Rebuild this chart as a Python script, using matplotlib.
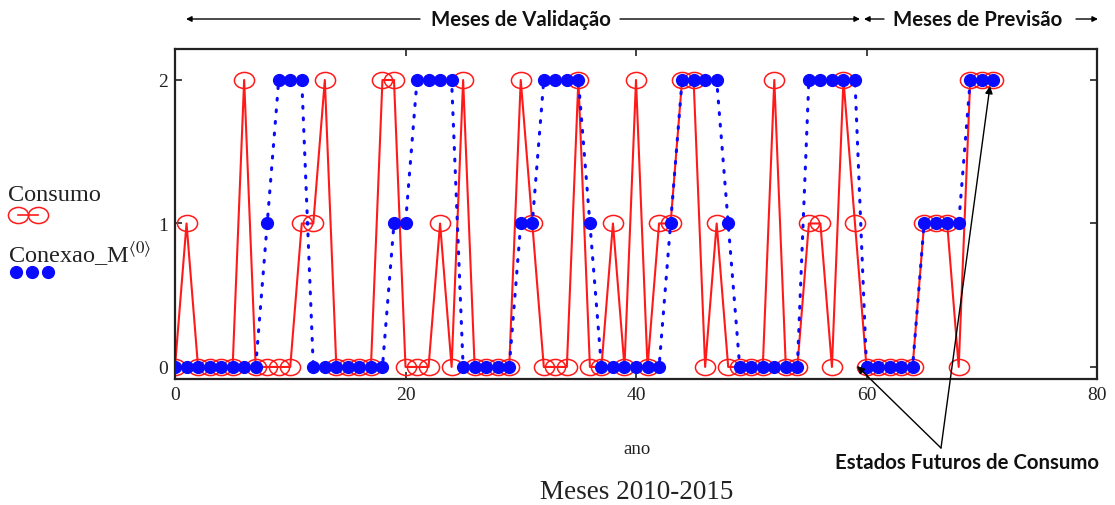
import numpy as np
import matplotlib
matplotlib.use("Agg")
import matplotlib.pyplot as plt
from matplotlib.path import Path
from matplotlib.transforms import Affine2D
from matplotlib.lines import Line2D
from matplotlib.patches import FancyArrowPatch

# Monthly consumption state and model connection state, 2010-2015
months = list(range(72))
consumo = [0, 1, 0, 0, 0, 0, 2, 0, 0, 0, 0, 1, 1, 2, 0, 0, 0, 0, 2, 2,
           0, 0, 0, 1, 0, 2, 0, 0, 0, 0, 2, 1, 0, 0, 0, 2, 0, 0, 1, 0,
           2, 0, 1, 1, 2, 2, 0, 1, 0, 0, 0, 0, 2, 0, 0, 1, 1, 0, 2, 1,
           0, 0, 0, 0, 0, 1, 1, 1, 0, 2, 2, 2]
conexao = [0, 0, 0, 0, 0, 0, 0, 0, 1, 2, 2, 2, 0, 0, 0, 0, 0, 0, 0, 1,
           1, 2, 2, 2, 2, 0, 0, 0, 0, 0, 1, 1, 2, 2, 2, 2, 1, 0, 0, 0,
           0, 0, 0, 1, 2, 2, 2, 2, 1, 0, 0, 0, 0, 0, 0, 2, 2, 2, 2, 2,
           0, 0, 0, 0, 0, 1, 1, 1, 1, 2, 2, 2]
x_ticks = [0, 20, 40, 60, 80]
y_ticks = [0, 1, 2]

W, H = 1115, 506
fig = plt.figure(figsize=(W / 100, H / 100), dpi=100)


def fx(px):
    return px / W


def fy(py):
    return 1 - py / H


# plot frame
left, right, top, bottom = 175, 1097, 50, 380
ax = fig.add_axes([fx(left), fy(bottom), fx(right) - fx(left), fy(top) - fy(bottom)])
ax.set_xlim(0, 80)
ax.set_ylim(-0.084, 2.216)

serif = "Liberation Serif"
red = "#ff1a1a"
blue = "#0a0aff"

# slightly wide open ellipse for the consumption marks
ellipse = Path.unit_circle().transformed(Affine2D().scale(1.0, 0.8))

ax.plot(months, consumo, color=red, lw=1.5, marker=ellipse, markersize=14.5,
        markerfacecolor="none", markeredgecolor=red, markeredgewidth=1.1, zorder=2)
ax.plot(months, conexao, color=blue, lw=2.2, linestyle=(0, (0.6, 3.2)),
        dash_capstyle="round", zorder=3)
ax.plot(months, conexao, linestyle="none", marker="o", markersize=8.5,
        color=blue, markeredgecolor=blue, zorder=4)

ax.set_xticks(x_ticks)
ax.set_yticks(y_ticks)
ax.tick_params(direction="in", length=5, width=1.2, top=True, right=True,
               labelsize=14, pad=5, colors="#222222")
for lab in ax.get_xticklabels() + ax.get_yticklabels():
    lab.set_fontfamily(serif)
for sp in ax.spines.values():
    sp.set_linewidth(1.6)
    sp.set_color("#222222")

# axis captions
fig.text(fx(637), fy(450), "ano", family=serif, fontsize=13.5,
         ha="center", va="center", color="#222222")
fig.text(fx(637), fy(493), "Meses 2010-2015", family=serif, fontsize=19.5,
         ha="center", va="center", color="#222222")

# legend on the left
fig.text(fx(8), fy(196), "Consumo", family=serif, fontsize=17.5,
         ha="left", va="center", color="#222222")
fig.add_artist(Line2D([fx(18), fx(38)], [fy(216), fy(216)], transform=fig.transFigure,
                      color=red, lw=1.2, marker=ellipse, markersize=14.5,
                      markerfacecolor="none", markeredgecolor=red, markeredgewidth=1.1))
fig.text(fx(8), fy(254), r"Conexao_M$^{\langle 0\rangle}$", family=serif, fontsize=17.5,
         ha="left", va="center", color="#222222", math_fontfamily="stix")
fig.add_artist(Line2D([fx(16), fx(32), fx(48)], [fy(273)] * 3, transform=fig.transFigure,
                      linestyle="none", marker="o", markersize=8.5, color=blue))

# period headers with arrows
hdr = dict(family="Lato", fontweight="bold", fontsize=14.7, color="#111111",
           ha="center", va="center")
arrow_kw = dict(arrowstyle="-|>", lw=1.0, color="black", mutation_scale=8,
                shrinkA=0, shrinkB=0)
hy = 20
fig.text(fx(521), fy(hy), "Meses de Validação", **hdr)
fig.text(fx(978), fy(hy), "Meses de Previsão", **hdr)
for x0, x1 in [(420, 186), (620, 860), (884, 864), (1076, 1098)]:
    fig.add_artist(FancyArrowPatch((fx(x0), fy(hy)), (fx(x1), fy(hy)),
                                   transform=fig.transFigure, **arrow_kw))

# future-state annotation
fig.text(fx(967), fy(463), "Estados Futuros de Consumo", **hdr)
start = (fx(941), fy(449))
for tip in [(fx(857), fy(367)), (fx(990), fy(87))]:
    fig.add_artist(FancyArrowPatch(start, tip, transform=fig.transFigure,
                                   arrowstyle="-|>", lw=1.0, color="black",
                                   mutation_scale=11, shrinkA=0, shrinkB=0))

fig.savefig("out.png", dpi=100)
